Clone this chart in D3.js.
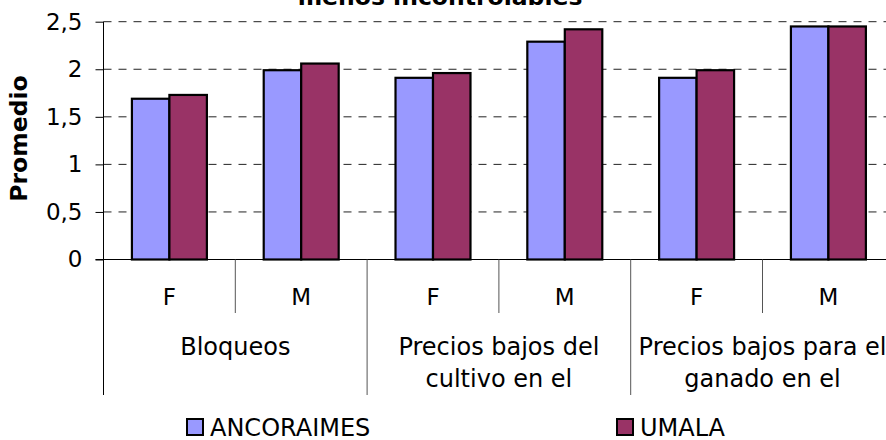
<!DOCTYPE html>
<html>
<head>
<meta charset="utf-8">
<script src="https://cdn.jsdelivr.net/npm/d3@7"></script>
<style>
    body { margin: 0; background: #fff; }
    svg { display: block; }
    text { font-family: Verdana, "DejaVu Sans", sans-serif; fill: #000; }
</style>
</head>
<body>
<div id="chart"></div>
<script>
    // data
    const groups = [["Bloqueos"], ["Precios bajos del", "cultivo en el"], ["Precios bajos para el", "ganado en el"]];
    const sexes = ["F", "M"];
    const seriesNames = ["ANCORAIMES", "UMALA"];
    const ancoraimes = [1.69, 1.99, 1.91, 2.29, 1.91, 2.45];
    const umala = [1.73, 2.06, 1.96, 2.42, 1.99, 2.45];
    const yTicks = [0, 0.5, 1, 1.5, 2, 2.5];
    const colors = ["#9999FF", "#993366"];

    const width = 886, height = 440;
    const plotLeft = 103.5, plotBottom = 259.5, plotTop = 21.7;
    const step = 131.8;

    const cats = [];
    groups.forEach(function (g, gi) {
        sexes.forEach(function (s) { cats.push({ id: gi + s, sex: s, group: gi }); });
    });
    cats.forEach(function (c, i) { c.values = [ancoraimes[i], umala[i]]; });

    const svg = d3.select("#chart").append("svg")
        .attr("width", width)
        .attr("height", height);

    const x0 = d3.scaleBand()
        .domain(cats.map(function (d) { return d.id; }))
        .range([plotLeft, plotLeft + step * cats.length]);

    const x1 = d3.scaleBand()
        .domain(seriesNames)
        .range([0, x0.bandwidth()])
        .paddingOuter(0.758);

    const y = d3.scaleLinear()
        .domain([0, 2.5])
        .range([plotBottom, plotTop]);

    // gridlines
    svg.append("g")
        .selectAll("line")
        .data(yTicks.filter(function (d) { return d > 0; }))
        .enter().append("line")
        .attr("x1", plotLeft).attr("x2", width)
        .attr("y1", function (d) { return y(d); })
        .attr("y2", function (d) { return y(d); })
        .attr("stroke", "#222")
        .attr("stroke-width", 1)
        .attr("stroke-dasharray", "8,7");

    // y axis
    const yAxis = d3.axisLeft(y)
        .tickValues(yTicks)
        .tickSize(8)
        .tickPadding(13)
        .tickFormat(function (d) { return String(d).replace(".", ","); });

    const ya = svg.append("g")
        .attr("transform", "translate(" + plotLeft + ",0)")
        .call(yAxis);
    ya.select(".domain").remove();
    ya.selectAll("line").attr("stroke", "#000");
    ya.selectAll("text")
        .style("font-family", "Verdana, 'DejaVu Sans', sans-serif")
        .style("font-size", "23px");

    svg.append("line")
        .attr("x1", plotLeft).attr("x2", plotLeft)
        .attr("y1", plotTop).attr("y2", 395)
        .attr("stroke", "#000");

    // bars
    const cat = svg.append("g").selectAll("g")
        .data(cats)
        .enter().append("g")
        .attr("transform", function (d) { return "translate(" + x0(d.id) + ",0)"; });

    cat.selectAll("rect")
        .data(function (d) { return d.values.map(function (v, i) { return { key: seriesNames[i], value: v, i: i }; }); })
        .enter().append("rect")
        .attr("x", function (d) { return x1(d.key); })
        .attr("width", x1.bandwidth())
        .attr("y", function (d) { return y(d.value); })
        .attr("height", function (d) { return plotBottom - y(d.value); })
        .attr("fill", function (d) { return colors[d.i]; })
        .attr("stroke", "#000")
        .attr("stroke-width", 2.2);

    // x axis baseline
    svg.append("line")
        .attr("x1", plotLeft - 8).attr("x2", width)
        .attr("y1", plotBottom).attr("y2", plotBottom)
        .attr("stroke", "#000");

    // category dividers
    const bounds = d3.range(cats.length + 1).map(function (i) { return plotLeft + step * i; });
    svg.append("g").selectAll("line")
        .data(bounds.slice(1))
        .enter().append("line")
        .attr("x1", function (d) { return d; })
        .attr("x2", function (d) { return d; })
        .attr("y1", plotBottom)
        .attr("y2", function (d, i) { return (i % 2 === 0) ? 313 : 395; })
        .attr("stroke", "#555");

    // F / M labels
    svg.append("g").selectAll("text")
        .data(cats)
        .enter().append("text")
        .attr("x", function (d) { return x0(d.id) + x0.bandwidth() / 2; })
        .attr("y", 305)
        .attr("text-anchor", "middle")
        .style("font-size", "23px")
        .text(function (d) { return d.sex; });

    // group labels
    const gl = svg.append("g").selectAll("text")
        .data(groups)
        .enter().append("text")
        .attr("text-anchor", "middle")
        .attr("x", function (d, i) { return x0(i + "F") + x0.bandwidth(); })
        .attr("y", 355)
        .style("font-size", "24px");
    gl.selectAll("tspan")
        .data(function (d) { return d; })
        .enter().append("tspan")
        .attr("x", function () { return d3.select(this.parentNode).attr("x"); })
        .attr("dy", function (d, i) { return i === 0 ? 0 : 31.5; })
        .text(function (d) { return d; });

    // title (top part cut off, as in the reference)
    svg.append("text")
        .attr("x", 440)
        .attr("y", 5)
        .attr("text-anchor", "middle")
        .style("font-size", "23.5px")
        .style("font-weight", "bold")
        .text("menos incontrolables");

    // y label
    svg.append("text")
        .attr("transform", "translate(27,138.5) rotate(-90)")
        .attr("text-anchor", "middle")
        .style("font-size", "23.5px")
        .style("font-weight", "bold")
        .text("Promedio");

    // legend
    const legendX = [187, 617];
    const lg = svg.append("g").selectAll("g")
        .data(seriesNames)
        .enter().append("g")
        .attr("transform", function (d, i) { return "translate(" + legendX[i] + ",419)"; });
    lg.append("rect")
        .attr("width", 16).attr("height", 16)
        .attr("fill", function (d, i) { return colors[i]; })
        .attr("stroke", "#000")
        .attr("stroke-width", 2);
    lg.append("text")
        .attr("x", 23)
        .attr("y", 16.5)
        .style("font-size", "24px")
        .text(function (d) { return d; });
</script>
</body>
</html>
